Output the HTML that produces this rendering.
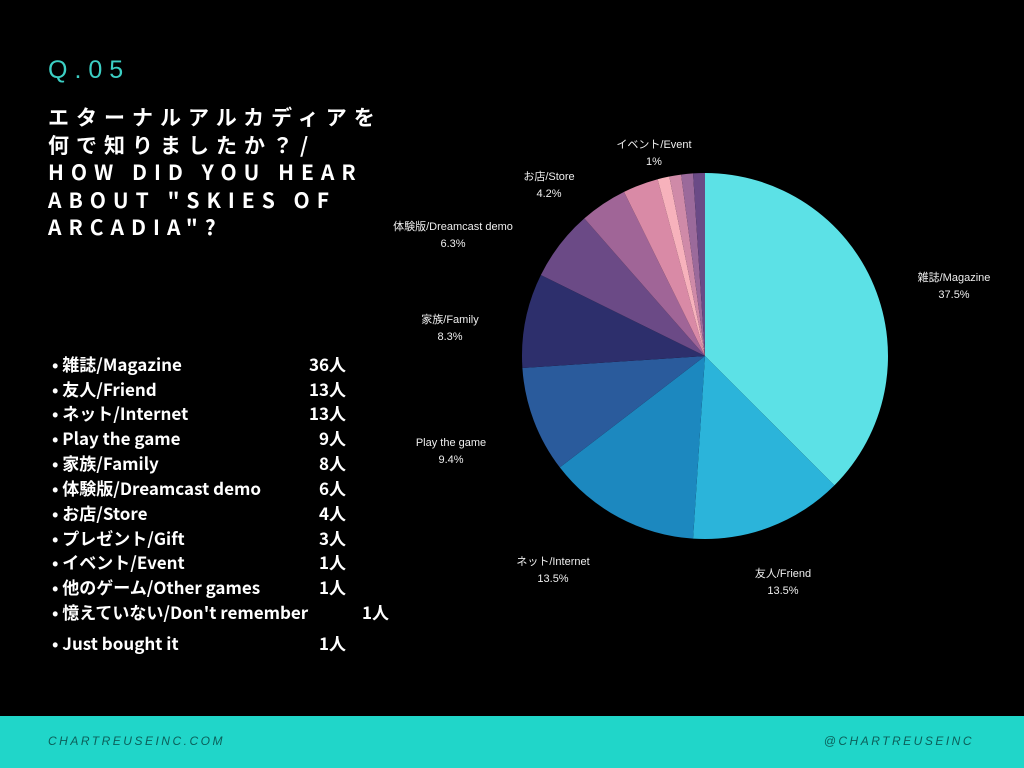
<!DOCTYPE html>
<html><head><meta charset="utf-8"><style>
body{margin:0;background:#000;width:1024px;height:768px;overflow:hidden;position:relative;font-family:"Liberation Sans","Noto Sans CJK JP",sans-serif;color:#fff}
.q{position:absolute;left:48px;top:56px;font-size:25px;letter-spacing:7px;color:#3ccfc4}
.t{position:absolute;left:48px;top:104px;font-size:21px;font-weight:bold;letter-spacing:7px;line-height:27.5px;white-space:nowrap;font-family:"Noto Sans CJK JP","Liberation Sans",sans-serif}
.l{position:absolute;left:52px;font-size:17px;font-weight:bold;white-space:nowrap;line-height:20px;height:20px;font-family:"Noto Sans CJK JP","Liberation Sans",sans-serif}
.n{position:absolute;left:290px;width:56px;text-align:right;font-size:17px;font-weight:bold;line-height:20px;font-family:"Noto Sans CJK JP","Liberation Sans",sans-serif}
.foot{position:absolute;left:0;top:716px;width:1024px;height:52px;background:#20d6c9}
.foot span{position:absolute;top:18px;font-size:12px;letter-spacing:2.5px;font-style:italic;color:#0b5f5a}
.lb{position:absolute;font-size:11px;text-align:center;color:#eee;line-height:17px;white-space:nowrap;transform:translateX(-50%)}
</style></head><body>
<div class="q">Q.05</div>
<div class="t">エターナルアルカディアを<br>何で知りましたか？/<br>HOW DID YOU HEAR<br>ABOUT "SKIES OF<br>ARCADIA"?</div>
<div id="list"></div>
<svg id="pie" width="1024" height="768" style="position:absolute;left:0;top:0"></svg>
<div class="lb" style="left:654px;top:137px">イベント/Event<br>1%</div>
<div class="lb" style="left:549px;top:169px">お店/Store<br>4.2%</div>
<div class="lb" style="left:453px;top:219px">体験版/Dreamcast demo<br>6.3%</div>
<div class="lb" style="left:450px;top:312px">家族/Family<br>8.3%</div>
<div class="lb" style="left:451px;top:435px">Play the game<br>9.4%</div>
<div class="lb" style="left:954px;top:270px">雑誌/Magazine<br>37.5%</div>
<div class="lb" style="left:553px;top:554px">ネット/Internet<br>13.5%</div>
<div class="lb" style="left:783px;top:566px">友人/Friend<br>13.5%</div>
<div class="foot"><span style="left:48px">CHARTREUSEINC.COM</span><span style="right:50px">@CHARTREUSEINC</span></div>
<script>
var items=[["雑誌/Magazine",36],["友人/Friend",13],["ネット/Internet",13],["Play the game",9],["家族/Family",8],["体験版/Dreamcast demo",6],["お店/Store",4],["プレゼント/Gift",3],["イベント/Event",1],["他のゲーム/Other games",1],["憶えていない/Don't remember",1],["Just bought it",1]];
var ys=[354,379,403,428,453,478,503,528,552,577,602,633],h="";
items.forEach(function(it,i){h+='<div class="l" style="top:'+ys[i]+'px">• '+it[0]+'</div>'+(i==10?'<div class="l" style="left:362px;top:'+ys[i]+'px">1人</div>':'<div class="n" style="top:'+ys[i]+'px">'+it[1]+'人</div>');});
document.getElementById('list').innerHTML=h;
var cols=["#5ce1e6","#2bb4da","#1c88bf","#2a5b9c","#2d2f6c","#6b4a86","#a06597","#d98aa6","#f7b2bc","#cf8aa8","#9b6a9b","#6a4a86"];
var cx=705,cy=356,r=183,a=0,s="",tot=96;
items.forEach(function(it,i){var b=a+it[1]/tot*2*Math.PI;
var x1=cx+r*Math.sin(a),y1=cy-r*Math.cos(a),x2=cx+r*Math.sin(b),y2=cy-r*Math.cos(b);
s+='<path d="M'+cx+','+cy+'L'+x1+','+y1+'A'+r+','+r+' 0 '+(b-a>Math.PI?1:0)+' 1 '+x2+','+y2+'Z" fill="'+cols[i]+'"/>';a=b;});
document.getElementById('pie').innerHTML=s;
</script>
</body></html>
